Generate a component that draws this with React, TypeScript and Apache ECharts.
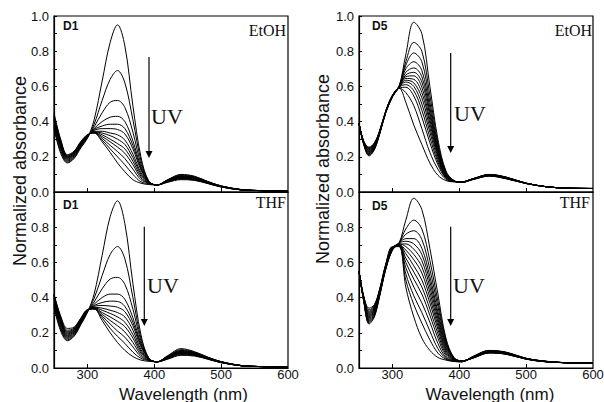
import React, { useEffect, useRef } from "react";
import * as echarts from "echarts";

// Wavelength grids (nm)
const W1 = [250, 260, 270, 280, 290, 300, 310, 322, 334, 345, 356, 368, 380, 392, 404, 420, 440, 460, 480, 500, 530, 560, 600];
const W5 = [250, 257, 265, 273, 281, 290, 300, 310, 320, 332, 344, 356, 368, 380, 392, 404, 420, 445, 470, 500, 530, 560, 600];

// Tick values
const X_TICKS = [300, 400, 500];
const X_LABELS = [300, 400, 500, 600];
const Y_TICKS = [0, 0.1, 0.2, 0.3, 0.4, 0.5, 0.6, 0.7, 0.8, 0.9, 1.0];
const Y_LABELS_TOP = [0, 0.2, 0.4, 0.6, 0.8, 1.0];
const Y_LABELS_LOW = [0, 0.2, 0.4, 0.6, 0.8];

// D1 in EtOH (initial -> after UV)
const e1_0 = [.36, .22, .165, .19, .25, .305, .41, .63, .85, .95, .83, .49, .20, .06, .04, .055, .07, .066, .048, .028, .012, .008, .006];
const e1_1 = [.37, .23, .17, .195, .255, .308, .385, .52, .64, .69, .62, .41, .18, .06, .04, .057, .074, .068, .049, .029, .012, .008, .006];
const e1_2 = [.38, .24, .175, .20, .26, .31, .37, .45, .51, .52, .48, .34, .16, .058, .04, .058, .076, .07, .05, .03, .012, .008, .006];
const e1_3 = [.39, .25, .18, .205, .263, .312, .36, .40, .425, .43, .40, .29, .145, .057, .04, .06, .078, .072, .051, .03, .012, .008, .006];
const e1_4 = [.40, .26, .185, .21, .266, .314, .355, .375, .385, .385, .36, .265, .135, .056, .04, .062, .08, .074, .052, .031, .012, .008, .006];
const e1_5 = [.405, .265, .19, .213, .27, .316, .35, .36, .36, .355, .33, .245, .125, .055, .04, .063, .082, .076, .053, .031, .012, .008, .006];
const e1_6 = [.41, .27, .193, .216, .272, .317, .345, .345, .335, .325, .295, .215, .11, .054, .04, .064, .084, .078, .054, .032, .013, .008, .006];
const e1_7 = [.415, .275, .196, .219, .275, .318, .342, .335, .32, .30, .27, .195, .10, .053, .04, .065, .086, .08, .055, .032, .013, .008, .006];
const e1_8 = [.42, .28, .199, .222, .277, .32, .34, .325, .30, .275, .245, .175, .09, .052, .04, .066, .088, .081, .056, .033, .013, .008, .006];
const e1_9 = [.425, .284, .202, .224, .279, .321, .338, .315, .285, .255, .22, .155, .08, .051, .04, .067, .09, .083, .057, .033, .013, .008, .006];
const e1_10 = [.43, .288, .205, .226, .281, .322, .337, .305, .265, .23, .19, .13, .07, .05, .04, .068, .093, .085, .058, .034, .013, .008, .006];
const e1_11 = [.44, .293, .208, .228, .283, .324, .336, .295, .245, .20, .155, .10, .058, .047, .04, .069, .096, .087, .059, .034, .014, .008, .006];
const e1_12 = [.45, .30, .212, .232, .287, .326, .335, .285, .225, .165, .115, .07, .05, .042, .04, .07, .10, .09, .06, .035, .014, .008, .006];

// D1 in THF
const t1_0 = [.345, .21, .155, .18, .245, .315, .42, .64, .86, .95, .82, .48, .19, .055, .035, .05, .072, .068, .05, .03, .013, .008, .006];
const t1_1 = [.355, .22, .16, .185, .25, .318, .395, .525, .645, .69, .62, .40, .17, .055, .035, .052, .076, .071, .051, .031, .013, .008, .006];
const t1_2 = [.365, .23, .167, .19, .255, .32, .375, .45, .505, .515, .475, .335, .155, .054, .035, .054, .079, .073, .052, .031, .013, .008, .006];
const t1_3 = [.375, .24, .173, .195, .258, .322, .362, .40, .42, .42, .39, .285, .14, .053, .035, .056, .082, .075, .053, .032, .013, .008, .006];
const t1_4 = [.383, .25, .178, .20, .262, .324, .355, .372, .38, .378, .35, .26, .13, .052, .035, .058, .085, .077, .054, .032, .013, .008, .006];
const t1_5 = [.39, .257, .183, .204, .265, .325, .35, .355, .352, .345, .32, .24, .12, .051, .035, .06, .087, .079, .055, .033, .013, .008, .006];
const t1_6 = [.395, .263, .188, .208, .268, .326, .345, .34, .328, .315, .29, .215, .105, .05, .035, .061, .089, .08, .056, .033, .013, .008, .006];
const t1_7 = [.40, .268, .193, .212, .27, .327, .342, .328, .31, .29, .26, .19, .095, .049, .035, .062, .091, .082, .057, .034, .013, .008, .006];
const t1_8 = [.405, .273, .198, .215, .273, .328, .34, .315, .29, .265, .235, .17, .085, .048, .035, .064, .094, .084, .058, .034, .014, .008, .006];
const t1_9 = [.41, .278, .203, .219, .275, .329, .338, .305, .27, .24, .205, .145, .075, .046, .035, .065, .097, .086, .059, .035, .014, .008, .006];
const t1_10 = [.413, .283, .208, .222, .278, .33, .337, .295, .25, .21, .175, .12, .065, .044, .035, .066, .10, .088, .06, .035, .014, .008, .006];
const t1_11 = [.417, .288, .215, .226, .28, .331, .336, .285, .225, .18, .14, .09, .055, .042, .035, .068, .104, .09, .061, .036, .014, .008, .006];
const t1_12 = [.42, .295, .225, .232, .283, .332, .335, .27, .20, .145, .10, .065, .045, .038, .035, .07, .11, .093, .062, .036, .014, .008, .006];

// D5 in EtOH
const e5_0 = [.39, .27, .205, .24, .33, .45, .54, .60, .78, .965, .90, .60, .30, .12, .065, .055, .07, .09, .075, .048, .03, .022, .02];
const e5_1 = [.39, .272, .209, .243, .332, .451, .541, .60, .74, .85, .80, .55, .28, .115, .065, .055, .071, .091, .076, .048, .03, .022, .02];
const e5_2 = [.39, .274, .213, .246, .333, .452, .541, .60, .72, .79, .74, .51, .265, .11, .064, .055, .071, .092, .077, .048, .03, .022, .02];
const e5_3 = [.39, .275, .217, .249, .335, .453, .542, .60, .70, .74, .69, .48, .25, .105, .063, .055, .072, .093, .078, .049, .03, .022, .02];
const e5_4 = [.39, .277, .221, .252, .336, .454, .543, .60, .68, .705, .655, .455, .24, .10, .062, .056, .072, .094, .079, .049, .03, .022, .02];
const e5_5 = [.39, .278, .225, .255, .338, .455, .544, .60, .665, .68, .625, .435, .23, .097, .062, .056, .073, .095, .08, .049, .03, .022, .02];
const e5_6 = [.39, .28, .229, .258, .339, .456, .545, .60, .655, .66, .595, .41, .22, .094, .061, .056, .073, .095, .08, .049, .03, .022, .02];
const e5_7 = [.39, .282, .233, .261, .341, .456, .546, .595, .645, .64, .565, .39, .21, .091, .061, .057, .073, .096, .081, .05, .03, .022, .02];
const e5_8 = [.39, .283, .237, .264, .342, .457, .547, .595, .635, .62, .535, .365, .20, .088, .06, .057, .074, .097, .082, .05, .03, .022, .02];
const e5_9 = [.39, .285, .241, .267, .344, .458, .547, .595, .625, .60, .50, .34, .185, .085, .06, .057, .074, .097, .082, .05, .03, .022, .02];
const e5_10 = [.39, .286, .245, .27, .345, .458, .548, .595, .61, .575, .465, .31, .17, .082, .06, .057, .074, .098, .083, .05, .03, .022, .02];
const e5_11 = [.39, .287, .248, .273, .347, .459, .548, .59, .595, .545, .425, .28, .155, .078, .059, .058, .075, .099, .084, .05, .03, .022, .02];
const e5_12 = [.39, .289, .251, .277, .348, .459, .549, .59, .565, .49, .36, .225, .13, .072, .059, .058, .075, .099, .084, .05, .03, .022, .02];
const e5_13 = [.39, .29, .255, .28, .35, .46, .55, .59, .51, .38, .27, .165, .095, .065, .058, .058, .075, .10, .085, .05, .03, .022, .02];

// D5 in THF
const t5_0 = [.55, .38, .25, .29, .41, .56, .67, .71, .84, .965, .90, .68, .42, .17, .06, .04, .055, .085, .078, .05, .035, .03, .028];
const t5_1 = [.55, .382, .256, .295, .413, .562, .671, .71, .79, .84, .79, .61, .38, .16, .058, .04, .056, .086, .079, .05, .035, .03, .028];
const t5_2 = [.55, .384, .262, .30, .416, .564, .672, .71, .76, .78, .73, .56, .35, .15, .057, .04, .056, .087, .079, .051, .035, .03, .028];
const t5_3 = [.55, .386, .268, .305, .419, .566, .673, .71, .735, .735, .68, .52, .32, .14, .056, .04, .057, .088, .08, .051, .036, .03, .028];
const t5_4 = [.55, .388, .274, .31, .422, .568, .674, .71, .72, .705, .645, .49, .30, .13, .055, .04, .058, .089, .081, .052, .036, .03, .028];
const t5_5 = [.55, .39, .28, .315, .425, .57, .676, .705, .705, .675, .61, .46, .28, .12, .054, .04, .058, .09, .082, .052, .036, .03, .028];
const t5_6 = [.55, .392, .286, .32, .428, .572, .678, .705, .69, .645, .575, .43, .26, .11, .052, .04, .059, .091, .083, .052, .036, .03, .028];
const t5_7 = [.55, .394, .292, .325, .43, .574, .68, .70, .67, .615, .54, .40, .24, .10, .05, .04, .06, .092, .084, .053, .037, .03, .028];
const t5_8 = [.55, .396, .298, .33, .433, .576, .682, .70, .65, .58, .50, .37, .22, .09, .049, .04, .061, .094, .085, .053, .037, .03, .028];
const t5_9 = [.55, .398, .304, .335, .436, .578, .684, .70, .625, .545, .46, .335, .195, .08, .047, .038, .062, .095, .086, .054, .037, .03, .028];
const t5_10 = [.55, .40, .31, .34, .44, .58, .685, .70, .60, .505, .42, .30, .17, .07, .045, .037, .062, .096, .087, .054, .037, .03, .028];
const t5_11 = [.55, .403, .316, .345, .442, .583, .686, .695, .57, .46, .37, .26, .14, .06, .043, .036, .063, .097, .088, .054, .038, .03, .028];
const t5_12 = [.55, .405, .322, .35, .445, .585, .687, .695, .535, .41, .315, .21, .11, .055, .04, .036, .064, .098, .088, .055, .038, .03, .028];
const t5_13 = [.55, .408, .33, .355, .447, .588, .688, .69, .50, .36, .255, .16, .085, .05, .038, .035, .064, .099, .089, .055, .038, .03, .028];
const t5_14 = [.55, .41, .34, .36, .45, .59, .69, .69, .46, .29, .17, .10, .06, .045, .037, .035, .065, .10, .09, .055, .038, .03, .028];

const D1_ETOH = [e1_0, e1_1, e1_2, e1_3, e1_4, e1_5, e1_6, e1_7, e1_8, e1_9, e1_10, e1_11, e1_12];
const D1_THF = [t1_0, t1_1, t1_2, t1_3, t1_4, t1_5, t1_6, t1_7, t1_8, t1_9, t1_10, t1_11, t1_12];
const D5_ETOH = [e5_0, e5_1, e5_2, e5_3, e5_4, e5_5, e5_6, e5_7, e5_8, e5_9, e5_10, e5_11, e5_12, e5_13];
const D5_THF = [t5_0, t5_1, t5_2, t5_3, t5_4, t5_5, t5_6, t5_7, t5_8, t5_9, t5_10, t5_11, t5_12, t5_13, t5_14];

const SANS = '"Liberation Sans", Arial, Helvetica, sans-serif';
const SERIF = '"Liberation Serif", "Times New Roman", serif';

const PANELS = [
  { curves: D1_ETOH, xs: W1 },
  { curves: D1_THF, xs: W1 },
  { curves: D5_ETOH, xs: W5 },
  { curves: D5_THF, xs: W5 },
];

function arrow(x: number, y1: number, y2: number) {
  return [
    { type: "line", shape: { x1: x, y1, x2: x, y2: y2 - 6 }, style: { stroke: "#000", lineWidth: 1.2 }, z: 100 },
    {
      type: "polygon",
      shape: { points: [[x - 3.5, y2 - 7], [x + 3.5, y2 - 7], [x, y2]] },
      style: { fill: "#000" },
      z: 100,
    },
  ];
}

function txt(x: number, y: number, text: string, font: string, align: string, extra: any = {}) {
  return {
    type: "text",
    x,
    y,
    z: 100,
    ...extra,
    style: { text, font, fill: "#111", textAlign: align, textVerticalAlign: "middle" },
  };
}

export default function App() {
  const ref = useRef<HTMLDivElement>(null);
  useEffect(() => {
    const chart = echarts.init(ref.current!, null, { renderer: "svg" });
    const boxes = [
      { left: 54, top: 16, width: 234, height: 176 },
      { left: 54, top: 192, width: 234, height: 176 },
      { left: 359, top: 16, width: 234, height: 176 },
      { left: 359, top: 192, width: 234, height: 176 },
    ];
    const isBottom = [false, true, false, true];
    const grid = boxes.map((b) => ({
      ...b,
      show: true,
      borderColor: "#000",
      borderWidth: 1.2,
      backgroundColor: "transparent",
      containLabel: false,
      outerBoundsMode: "none",
    }));
    const xAxis = boxes.map((_, i) => ({
      type: "value",
      gridIndex: i,
      min: 250,
      max: 600,
      axisLine: { show: true, onZero: false, lineStyle: { color: "#000", width: 1.2 } },
      axisTick: { show: true, inside: true, length: 4, customValues: X_TICKS, lineStyle: { color: "#000" } },
      axisLabel: {
        show: isBottom[i],
        customValues: X_LABELS,
        color: "#111",
        fontSize: 13,
        fontFamily: SANS,
        margin: 0,
      },
      splitLine: { show: false },
    }));
    const yAxis = boxes.map((_, i) => ({
      type: "value",
      gridIndex: i,
      min: 0,
      max: 1,
      axisLine: { show: true, onZero: false, lineStyle: { color: "#000", width: 1.2 } },
      axisTick: { show: true, inside: true, length: 3, customValues: Y_TICKS, lineStyle: { color: "#000" } },
      axisLabel: {
        customValues: isBottom[i] ? Y_LABELS_LOW : Y_LABELS_TOP,
        formatter: (v: number) => v.toFixed(1),
        color: "#111",
        fontSize: 13,
        fontFamily: SANS,
        margin: 5,
      },
      splitLine: { show: false },
    }));
    const series = PANELS.flatMap((p, gi) =>
      p.curves.map((ys) => ({
        type: "line",
        xAxisIndex: gi,
        yAxisIndex: gi,
        data: p.xs.map((x, k) => [x, ys[k]]),
        smooth: 0.35,
        symbol: "none",
        silent: true,
        lineStyle: { color: "#000", width: 1 },
      }))
    );
    const graphic = [
      txt(19.5, 171, "Normalized absorbance", `18px ${SANS}`, "center", { rotation: Math.PI / 2 }),
      txt(323, 169, "Normalized absorbance", `18px ${SANS}`, "center", { rotation: Math.PI / 2 }),
      txt(183.5, 394, "Wavelength (nm)", `17px ${SANS}`, "center"),
      txt(490, 394, "Wavelength (nm)", `17px ${SANS}`, "center"),
      txt(63, 26, "D1", `bold 12px ${SANS}`, "left"),
      txt(63, 204.5, "D1", `bold 12px ${SANS}`, "left"),
      txt(372, 26, "D5", `bold 12px ${SANS}`, "left"),
      txt(372, 205.5, "D5", `bold 12px ${SANS}`, "left"),
      txt(286, 30, "EtOH", `16px ${SERIF}`, "right"),
      txt(592, 30, "EtOH", `16px ${SERIF}`, "right"),
      txt(286, 202, "THF", `16px ${SERIF}`, "right"),
      txt(590, 202.5, "THF", `16px ${SERIF}`, "right"),
      txt(151, 116, "UV", `22px ${SERIF}`, "left"),
      txt(147, 285, "UV", `22px ${SERIF}`, "left"),
      txt(454, 113.5, "UV", `22px ${SERIF}`, "left"),
      txt(453, 285.5, "UV", `22px ${SERIF}`, "left"),
      ...arrow(149, 57, 158),
      ...arrow(144.3, 226.7, 326),
      ...arrow(450.7, 53, 153),
      ...arrow(450.7, 226.7, 326),
    ];
    chart.setOption({
      animation: false,
      backgroundColor: "#fff",
      grid,
      xAxis,
      yAxis,
      series,
      graphic,
    } as any);
    return () => chart.dispose();
  }, []);
  return (
    <div
      ref={ref}
      style={{ position: "fixed", left: 0, top: 0, width: 604, height: 402, background: "#fff" }}
    />
  );
}
